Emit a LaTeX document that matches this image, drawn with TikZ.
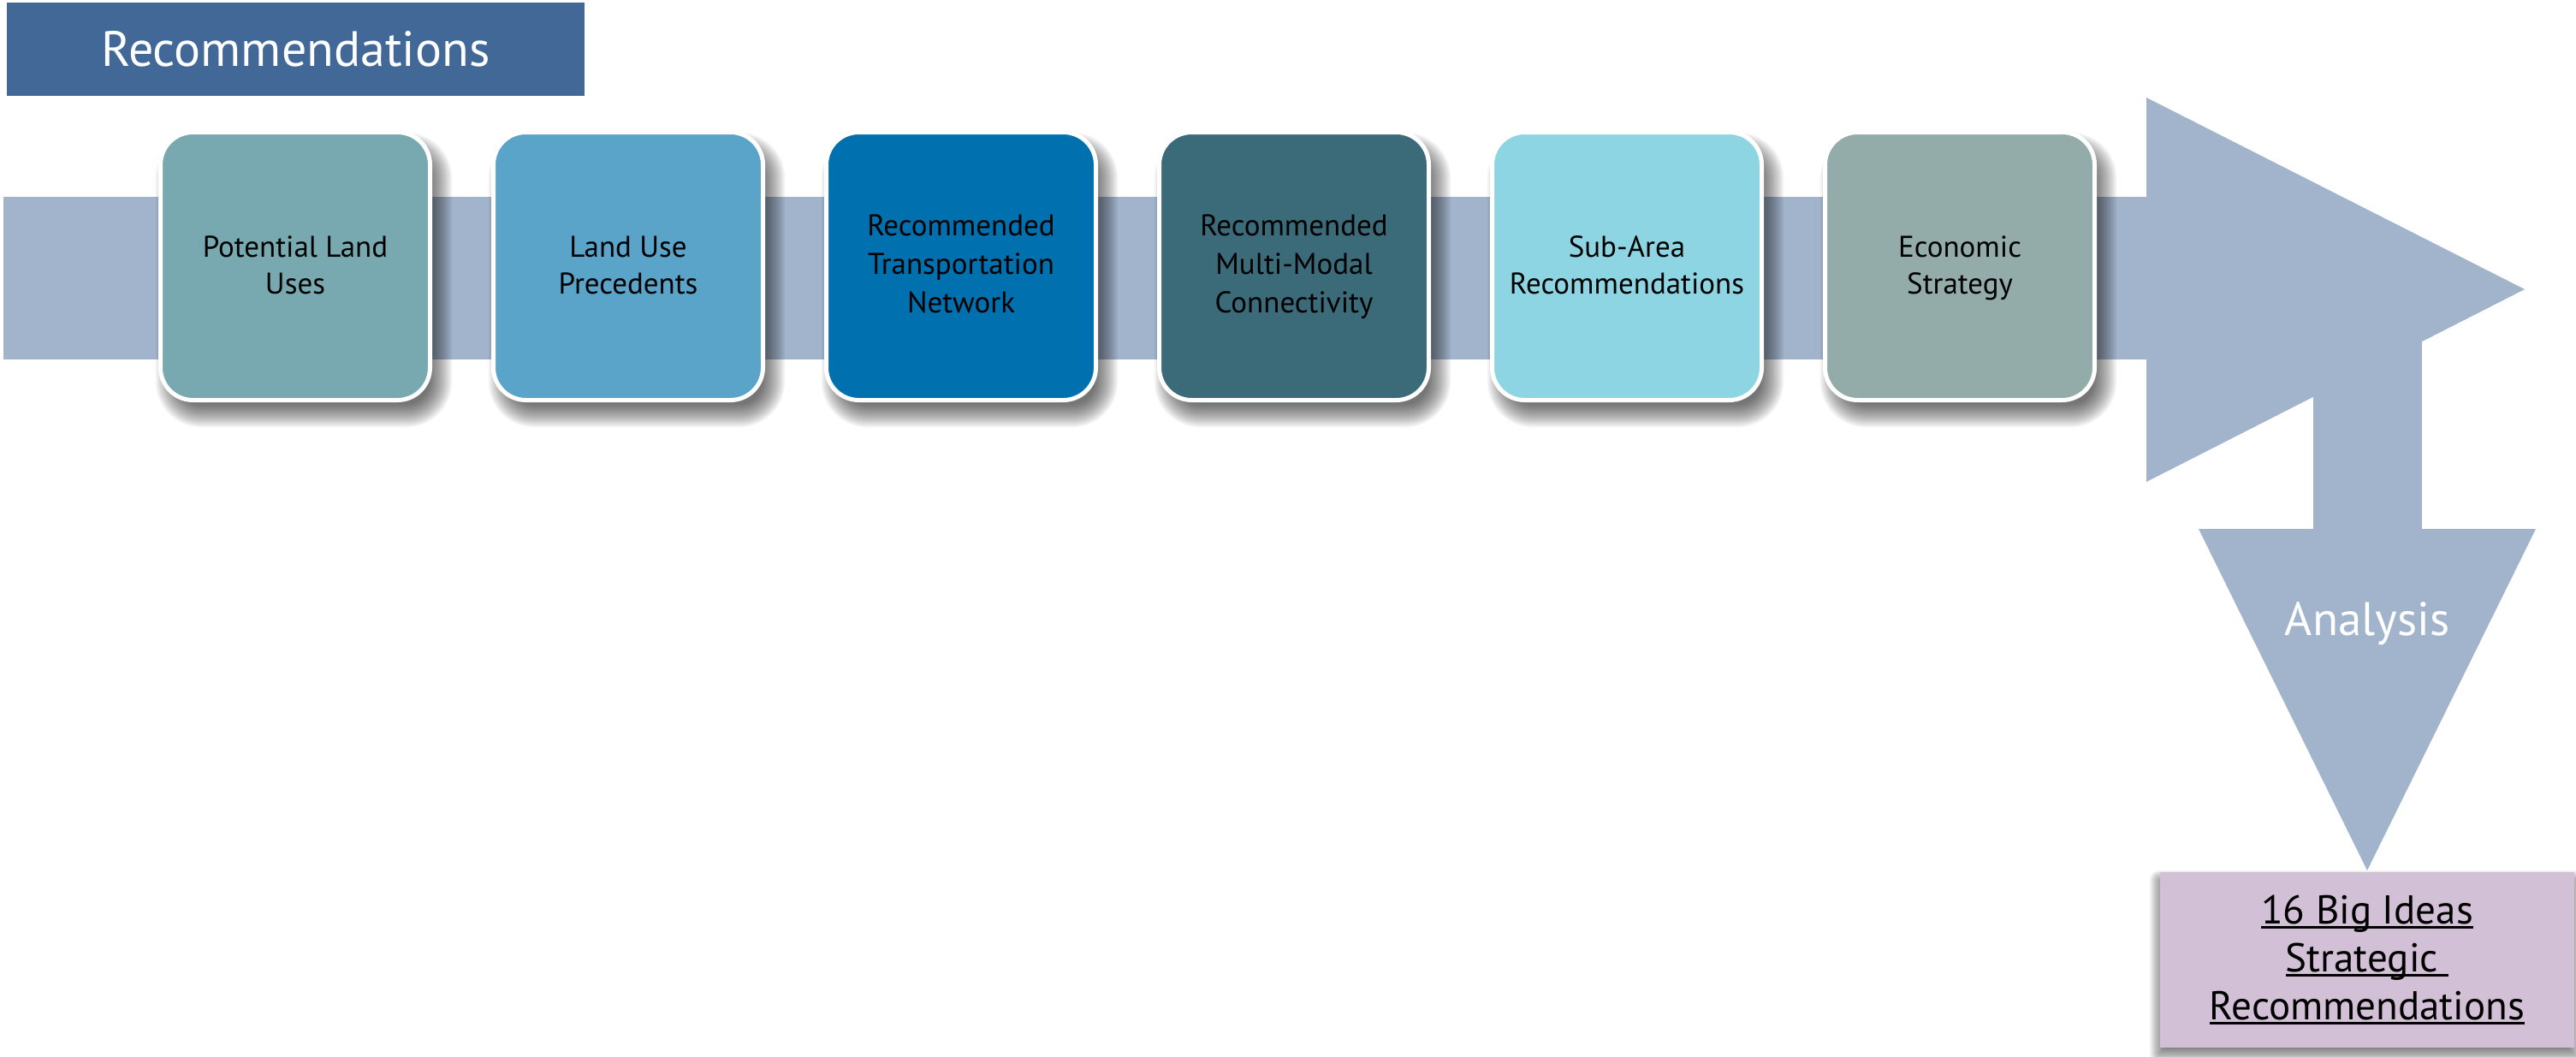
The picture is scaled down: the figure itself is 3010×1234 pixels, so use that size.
\documentclass[tikz,border=0pt]{standalone}
\usepackage{fontspec}
\setmainfont{PT Sans}
\definecolor{titleblue}{HTML}{426897}
\definecolor{flow}{HTML}{A2B4CB}
\definecolor{boxA}{HTML}{78A8B0}
\definecolor{boxB}{HTML}{5AA3C9}
\definecolor{boxC}{HTML}{0070AE}
\definecolor{boxD}{HTML}{3B6B79}
\definecolor{boxE}{HTML}{8ED5E3}
\definecolor{boxF}{HTML}{93ACA9}
\definecolor{lilac}{HTML}{D2C1D6}

% underline at a fixed depth below the baseline
\newcommand{\ulword}[1]{\sbox0{#1}\rlap{\rule[-5pt]{\wd0}{2.5pt}}\usebox0}

% soft shadow: x1 y1 x2 y2 radius blur
\newcommand{\softshadow}[6]{%
  \foreach \k in {0,...,13}{%
    \pgfmathsetmacro\shOff{#6*(1-\k/6.5)}%
    \pgfmathsetmacro\shRad{max(#5+\shOff,1)}%
    \fill[black, opacity=0.05, rounded corners=\shRad pt]
      ({#1-\shOff},{#2-\shOff}) rectangle ({#3+\shOff},{#4+\shOff});
  }}

% a top strut a little taller than \strut, to lower two-line labels slightly
\newcommand{\topstrut}{\rule{0pt}{34.5pt}}

\tikzset{
  stepbox/.style={draw=white, line width=5pt, rounded corners=38pt,
    minimum width=315pt, minimum height=313pt, inner sep=0pt,
    align=center, text=black, font=\fontsize{35}{45}\selectfont},
  flowshape/.style={fill=flow},
}

\begin{document}
\begin{tikzpicture}[x=1pt, y=-1pt]
\useasboundingbox (0,0) rectangle (3010,1234);
\fill[white] (0,0) rectangle (3010,1234);

% title banner
\node[fill=titleblue, minimum width=675pt, minimum height=109pt, inner sep=0pt,
      text=white, font=\fontsize{58}{60}\selectfont] (title) at (345.5,57.5) {Recommendations};

% flow band and arrows
\fill[flowshape] (4,230) rectangle (2512,420);
\fill[flowshape] (2508,114) -- (2950,338) -- (2508,563) -- cycle;
\fill[flowshape] (2703,330) rectangle (2830,619);
\fill[flowshape] (2569,618) -- (2963,618) -- (2766,1017) -- cycle;

% shadows under the step boxes
\foreach \L in {185,574,963,1352,1741,2130}{%
  \softshadow{\L+10}{168}{\L+330}{486}{40}{13}}

% steps
\node[stepbox, fill=boxA] (s1) at (345,311)  {\topstrut Potential Land\\[-2pt]Uses\strut};
\node[stepbox, fill=boxB] (s2) at (734,311)  {\topstrut Land Use\\[-2pt]Precedents\strut};
\node[stepbox, fill=boxC] (s3) at (1123,311) {\strut Recommended\\Transportation\\Network\strut};
\node[stepbox, fill=boxD] (s4) at (1512,311) {\strut Recommended\\Multi-Modal\\Connectivity\strut};
\node[stepbox, fill=boxE] (s5) at (1901,311) {\topstrut Sub-Area\\[-2pt]Recommendations\strut};
\node[stepbox, fill=boxF] (s6) at (2290,311) {\topstrut Economic\\[-2pt]Strategy\strut};

% analysis label
\node[anchor=base, text=white, font=\fontsize{55}{60}\selectfont] (analysis) at (2766,742) {Analysis};

% result box
\softshadow{2522}{1027}{3008}{1232}{1}{10}
\node[fill=lilac, minimum width=484pt, minimum height=205pt, inner sep=0pt,
      align=center, font=\fontsize{47}{56}\selectfont] (ideas) at (2766,1121.5)
  {\ulword{16 Big Ideas}\\\ulword{Strategic\ }\\\ulword{Recommendations}};
\end{tikzpicture}
\end{document}
